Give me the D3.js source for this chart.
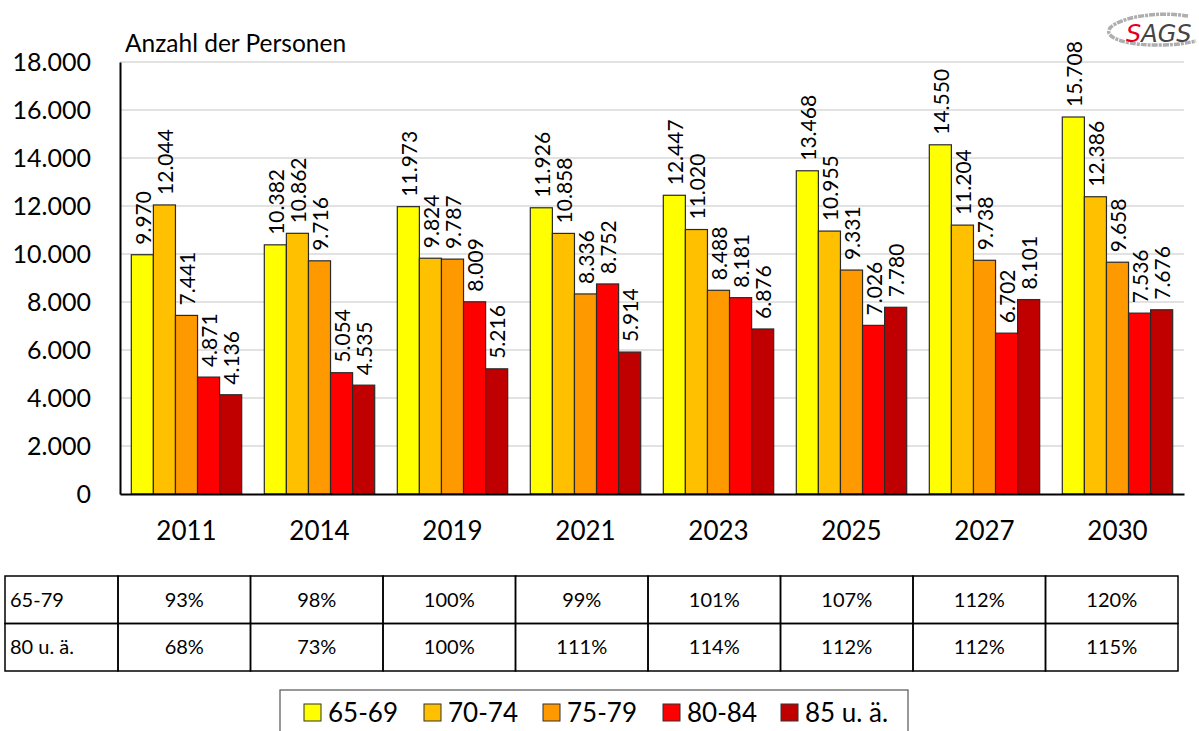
<!DOCTYPE html>
<html lang="de">

<head>
    <meta charset="UTF-8">
    <title>Anzahl der Personen nach Altersgruppen</title>
    <script src="https://d3js.org/d3.v7.min.js"></script>
    <style>
        body {
            margin: 0;
            background: #fff;
            font-family: Lato, "Noto Sans", sans-serif;
        }
    </style>
</head>

<body>
    <div id="chart"></div>

    <script>
        const years = ["2011", "2014", "2019", "2021", "2023", "2025", "2027", "2030"];
        const groups = ["65-69", "70-74", "75-79", "80-84", "85 u. ä."];
        const colors = ["#FFFF00", "#FFC000", "#FF9900", "#FF0000", "#C00000"];

        const v6569 = [9970, 10382, 11973, 11926, 12447, 13468, 14550, 15708];
        const v7074 = [12044, 10862, 9824, 10858, 11020, 10955, 11204, 12386];
        const v7579 = [7441, 9716, 9787, 8336, 8488, 9331, 9738, 9658];
        const v8084 = [4871, 5054, 8009, 8752, 8181, 7026, 6702, 7536];
        const v85 = [4136, 4535, 5216, 5914, 6876, 7780, 8101, 7676];
        const seriesValues = [v6569, v7074, v7579, v8084, v85];

        const yTicks = [0, 2000, 4000, 6000, 8000, 10000, 12000, 14000, 16000, 18000];

        const tableLabels = ["65-79", "80 u. ä."];
        const row6579 = ["93%", "98%", "100%", "99%", "101%", "107%", "112%", "120%"];
        const row80 = ["68%", "73%", "100%", "111%", "114%", "112%", "112%", "115%"];
        const tableRows = [row6579, row80];

        const width = 1199;
        const height = 731;
        const plot = { left: 120, right: 1184, top: 62, bottom: 494 };

        const fmt = d3.formatLocale({ decimal: ",", thousands: ".", grouping: [3], currency: ["", "€"] }).format(",.0f");

        const svg = d3.select("#chart")
            .append("svg")
            .attr("width", width)
            .attr("height", height);

        const x = d3.scaleBand()
            .domain(years)
            .range([plot.left, plot.right])
            .paddingInner(0.17)
            .paddingOuter(0.085);

        const xGroup = d3.scaleBand()
            .domain(groups)
            .range([0, x.bandwidth()]);

        const y = d3.scaleLinear()
            .domain([0, 18000])
            .range([plot.bottom, plot.top]);

        // gridlines
        svg.append("g")
            .selectAll("line")
            .data(yTicks.filter(d => d > 0))
            .join("line")
            .attr("x1", plot.left)
            .attr("x2", plot.right)
            .attr("y1", d => y(d))
            .attr("y2", d => y(d))
            .attr("stroke", "#d9d9d9")
            .attr("stroke-width", 1.5);

        // y axis
        const yAxis = svg.append("g")
            .attr("transform", `translate(${plot.left},0)`)
            .call(d3.axisLeft(y).tickValues(yTicks).tickFormat(d => fmt(d)).tickSize(0).tickPadding(29));
        yAxis.select(".domain").attr("stroke", "#000").attr("stroke-width", 2);
        yAxis.selectAll("text")
            .style("font-family", "Lato, sans-serif")
            .style("font-size", "25px")
            .attr("fill", "#000");

        svg.append("text")
            .attr("x", 125)
            .attr("y", 52)
            .style("font-size", "24.5px")
            .text("Anzahl der Personen");

        // bars
        const yearG = svg.append("g")
            .selectAll("g")
            .data(years)
            .join("g")
            .attr("transform", d => `translate(${x(d)},0)`);

        yearG.selectAll("rect")
            .data((d, i) => groups.map((g, k) => ({ g, k, v: seriesValues[k][i] })))
            .join("rect")
            .attr("x", d => xGroup(d.g))
            .attr("y", d => y(d.v))
            .attr("width", xGroup.bandwidth())
            .attr("height", d => y(0) - y(d.v))
            .attr("fill", d => colors[d.k])
            .attr("stroke", "#2a2a2a")
            .attr("stroke-width", 1.2);

        yearG.selectAll("text")
            .data((d, i) => groups.map((g, k) => ({ g, k, v: seriesValues[k][i] })))
            .join("text")
            .attr("transform", d => `translate(${xGroup(d.g) + xGroup.bandwidth() / 2 + 1},${y(d.v) - 10}) rotate(-90)`)
            .attr("dy", "0.36em")
            .style("font-size", "21px")
            .text(d => fmt(d.v));

        // x axis
        const xAxis = svg.append("g")
            .attr("transform", `translate(0,${plot.bottom})`)
            .call(d3.axisBottom(x).tickSize(0).tickPadding(28));
        xAxis.select(".domain").attr("stroke", "#000").attr("stroke-width", 2);
        xAxis.selectAll("text")
            .style("font-family", "Lato, sans-serif")
            .style("font-size", "26px")
            .attr("fill", "#000");

        // table
        const table = { left: 5, top: 576, rowH: 47.5 };
        const xt = d3.scaleBand().domain(years).range([118, 1178]);
        const tg = svg.append("g");

        tableRows.forEach((row, r) => {
            const top = table.top + r * table.rowH;
            tg.append("rect")
                .attr("x", table.left)
                .attr("y", top)
                .attr("width", xt(years[0]) - table.left)
                .attr("height", table.rowH)
                .attr("fill", "none")
                .attr("stroke", "#000")
                .attr("stroke-width", 1.5);
            tg.append("text")
                .attr("x", table.left + 5)
                .attr("y", top + table.rowH / 2)
                .attr("dy", "0.35em")
                .style("font-size", "20px")
                .text(tableLabels[r]);
            row.forEach((val, c) => {
                tg.append("rect")
                    .attr("x", xt(years[c]))
                    .attr("y", top)
                    .attr("width", xt.bandwidth())
                    .attr("height", table.rowH)
                    .attr("fill", "none")
                    .attr("stroke", "#000")
                    .attr("stroke-width", 1.5);
                tg.append("text")
                    .attr("x", xt(years[c]) + xt.bandwidth() / 2)
                    .attr("y", top + table.rowH / 2)
                    .attr("dy", "0.35em")
                    .attr("text-anchor", "middle")
                    .style("font-size", "20px")
                    .text(val);
            });
        });

        // legend
        const legendX = [304, 424, 543, 663, 781];
        const lg = svg.append("g");
        lg.append("rect")
            .attr("x", 280)
            .attr("y", 690)
            .attr("width", 628)
            .attr("height", 60)
            .attr("fill", "#fff")
            .attr("stroke", "#555")
            .attr("stroke-width", 1.2);
        groups.forEach((g, i) => {
            lg.append("rect")
                .attr("x", legendX[i])
                .attr("y", 704)
                .attr("width", 17)
                .attr("height", 17)
                .attr("fill", colors[i])
                .attr("stroke", "#333")
                .attr("stroke-width", 1);
            lg.append("text")
                .attr("x", legendX[i] + 24)
                .attr("y", 713)
                .attr("dy", "0.36em")
                .style("font-size", "26px")
                .text(g);
        });

        // SAGS logo
        const logo = svg.append("g").attr("transform", "translate(1152,33)");
        logo.append("path")
            .attr("d", "M36,-17 C6,-22 -32,-16 -42,-5 C-50,6 -20,13 10,12 C25,12 35,10 44,8")
            .attr("fill", "none")
            .attr("stroke", "#9a9a9a")
            .attr("stroke-width", 3.5)
            .attr("stroke-dasharray", "6 1 3 1")
            .attr("opacity", 0.8);
        const logoText = logo.append("text")
            .attr("x", -26)
            .attr("y", 9)
            .style("font-family", "'DejaVu Sans', sans-serif")
            .style("font-size", "24px")
            .style("font-style", "italic");
        logoText.append("tspan").attr("fill", "#e2001a").text("S");
        logoText.append("tspan").attr("fill", "#444").text("AGS");
    </script>
</body>

</html>
